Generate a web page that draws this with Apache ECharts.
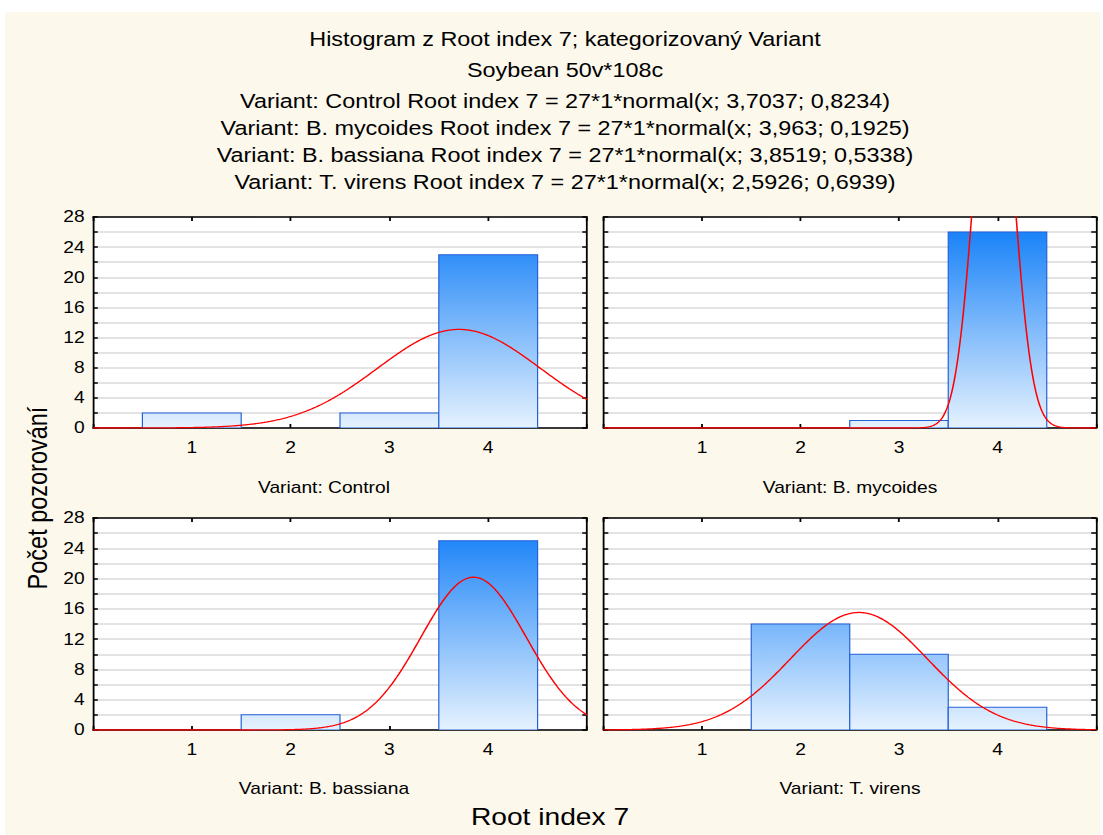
<!DOCTYPE html>
<html>
<head>
<meta charset="utf-8">
<script src="https://cdn.jsdelivr.net/npm/echarts@6/dist/echarts.min.js"></script>
<style>
  html, body { margin: 0; padding: 0; background: #ffffff; overflow: hidden; }
  #c { height: 835px; transform-origin: 0 0; }
</style>
</head>
<body>
<div id="c"></div>
<script>
// ---------------- DATA ----------------
const variants = ['Control', 'B. mycoides', 'B. bassiana', 'T. virens'];
const binCenters = [1, 2, 3, 4];
const countsControl  = [2, 0, 2, 23];
const countsMycoides = [0, 0, 1, 26];
const countsBassiana = [0, 2, 0, 25];
const countsVirens   = [0, 14, 10, 3];
const fitMeans = [3.7037, 3.963, 3.8519, 2.5926];
const fitSds   = [0.8234, 0.1925, 0.5338, 0.6939];
const nObs = 27;
const binWidth = 1;
const titleLine1 = 'Histogram z Root index 7; kategorizovaný Variant';
const titleLine2 = 'Soybean 50v*108c';
const xAxisTitle = 'Root index 7';
const yAxisTitle = 'Počet pozorování';
const xTickLabels = [1, 2, 3, 4];

const countsAll = [countsControl, countsMycoides, countsBassiana, countsVirens];

// ---------------- LAYOUT ----------------
const S = 1.2;                       // horizontal stretch of the original picture
const W = 1103 / S;
const X = o => o / S;
const el = document.getElementById('c');
el.style.width = W + 'px';
el.style.transform = 'scaleX(' + S + ')';

const FONT = "'Liberation Sans', Arial, sans-serif";
const panels = [
  { l: 93,    r: 587,  t: 217, b: 428, subX: 324, subY: 488, yLabels: true },
  { l: 603.5, r: 1096, t: 217, b: 428, subX: 850, subY: 488, yLabels: false },
  { l: 93,    r: 587,  t: 518, b: 730, subX: 324, subY: 789, yLabels: true },
  { l: 603.5, r: 1096, t: 518, b: 730, subX: 850, subY: 789, yLabels: false }
];

const topColor = [10, 122, 247];
const botColor = [230, 242, 254];
function colorAt(t) {
  const c = botColor.map((b, k) => Math.round(b + (topColor[k] - b) * t));
  return 'rgb(' + c.join(',') + ')';
}

const fmt = v => String(v).replace('.', ',');

const grids = [], xAxes = [], yAxes = [], series = [];
panels.forEach((p, i) => {
  grids.push({
    left: X(p.l), top: p.t, width: X(p.r - p.l), height: p.b - p.t,
    show: true, backgroundColor: '#ffffff', borderWidth: 0
  });
  const axLine = { show: true, onZero: false, lineStyle: { color: '#000', width: 1.5 } };
  const tick = { show: true, inside: true, length: 4, lineStyle: { color: '#000', width: 1.5 } };
  xAxes.push({
    type: 'value', gridIndex: i, min: 0, max: 5, interval: 1, position: 'bottom',
    axisLine: axLine, axisTick: tick, splitLine: { show: false },
    axisLabel: {
      color: '#000', fontSize: 16, fontFamily: FONT, margin: 12,
      formatter: v => (xTickLabels.indexOf(v) >= 0 ? String(v) : '')
    }
  });
  xAxes.push({
    type: 'value', gridIndex: i, min: 0, max: 5, interval: 1, position: 'top',
    axisLine: axLine, axisTick: tick, splitLine: { show: false }, axisLabel: { show: false }
  });
  yAxes.push({
    type: 'value', gridIndex: i, min: 0, max: 28, interval: 2, position: 'left',
    axisLine: axLine, axisTick: tick,
    splitLine: { show: true, lineStyle: { color: '#dadada', width: 1.5 } },
    axisLabel: {
      show: p.yLabels,
      color: '#000', fontSize: 16, fontFamily: FONT, margin: 7,
      formatter: v => (v % 4 === 0 ? String(v) : '')
    }
  });
  yAxes.push({
    type: 'value', gridIndex: i, min: 0, max: 28, interval: 2, position: 'right',
    axisLine: axLine, axisTick: tick, splitLine: { show: false }, axisLabel: { show: false }
  });

  const barData = binCenters.map((c, k) => [c, countsAll[i][k]]);
  series.push({
    type: 'custom', xAxisIndex: 2 * i, yAxisIndex: 2 * i, clip: true, z: 3,
    data: barData,
    renderItem: (params, api) => {
      const x = api.value(0), v = api.value(1);
      if (!v) return null;
      const p1 = api.coord([x - binWidth / 2, v]);
      const p2 = api.coord([x + binWidth / 2, 0]);
      return {
        type: 'rect',
        shape: { x: p1[0], y: p1[1], width: p2[0] - p1[0], height: p2[1] - p1[1] },
        style: {
          fill: {
            type: 'linear', x: 0, y: 0, x2: 0, y2: 1,
            colorStops: [{ offset: 0, color: colorAt(v / 28) }, { offset: 1, color: colorAt(0) }]
          },
          stroke: '#2462d8', lineWidth: 1
        }
      };
    }
  });

  const m = fitMeans[i], s = fitSds[i];
  const curve = [];
  for (let k = 0; k <= 500; k++) {
    const x = k * 0.01;
    const y = nObs * binWidth * Math.exp(-0.5 * Math.pow((x - m) / s, 2)) / (s * Math.sqrt(2 * Math.PI));
    curve.push([x, y]);
  }
  series.push({
    type: 'line', xAxisIndex: 2 * i, yAxisIndex: 2 * i, data: curve, showSymbol: false,
    symbol: 'none', clip: true, z: 5, silent: true,
    lineStyle: { color: '#ff0000', width: 1.3 }
  });
});

// ---------------- TEXTS ----------------
const graphics = [
  { type: 'rect', z: -100, shape: { x: X(5), y: 12, width: X(1095), height: 835 - 12 },
    style: { fill: '#fcf8ec' } }
];
function txt(str, ox, oy, size, extra) {
  return Object.assign({
    type: 'text', z: 100, x: X(ox), y: oy,
    style: { text: str, fontSize: size, fontFamily: FONT, fill: '#000',
             align: 'center', verticalAlign: 'middle' }
  }, extra || {});
}
const titleX = 565;
graphics.push(txt(titleLine1, titleX, 40, 19.5));
graphics.push(txt(titleLine2, titleX, 71, 19.5));
variants.forEach((v, i) => {
  graphics.push(txt('Variant: ' + v + ' Root index 7 = ' + nObs + '*' + binWidth + '*normal(x; ' +
    fmt(fitMeans[i]) + '; ' + fmt(fitSds[i]) + ')', titleX, 102 + 27 * i, 19.5));
});
panels.forEach((p, i) => {
  graphics.push(txt('Variant: ' + variants[i], p.subX, p.subY, 16));
});
graphics.push(txt(xAxisTitle, 550, 817, 23.5));
graphics.push(txt(yAxisTitle, 37, 498, 23.5, { rotation: Math.PI / 2 }));

const chart = echarts.init(el, null, { renderer: 'svg', width: W, height: 835 });
chart.setOption({
  animation: false,
  backgroundColor: '#ffffff',
  grid: grids,
  xAxis: xAxes,
  yAxis: yAxes,
  series: series,
  graphic: { elements: graphics }
});
</script>
</body>
</html>
